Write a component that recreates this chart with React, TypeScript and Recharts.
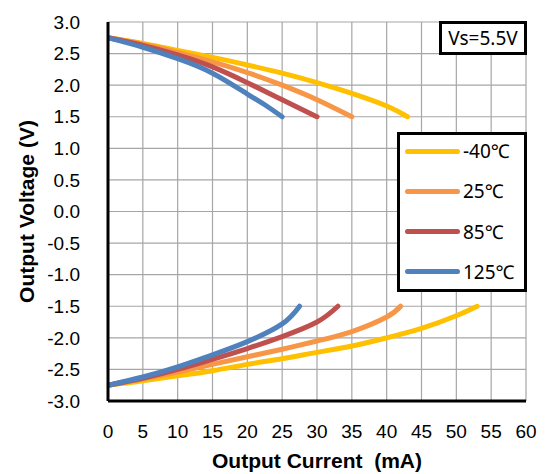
import React from 'react'
import { LineChart, Line, XAxis, YAxis, CartesianGrid } from 'recharts'

// Output current (mA) vs output voltage (V), source (top) and sink (bottom) branches
const tempLabels = ['-40℃', '25℃', '85℃', '125℃']
const tempColors = ['#FFC000', '#F79646', '#C0504D', '#4F81BD']

const xTicks = [0, 5, 10, 15, 20, 25, 30, 35, 40, 45, 50, 55, 60]
const yTicks = [-3, -2.5, -2, -1.5, -1, -0.5, 0, 0.5, 1, 1.5, 2, 2.5, 3]

const highM40 = [[0, 2.75], [5, 2.66], [10, 2.55], [15, 2.44], [20, 2.32], [25, 2.19], [30, 2.04], [35, 1.87], [40, 1.67], [43, 1.5]]
const high25 = [[0, 2.75], [5, 2.65], [10, 2.52], [15, 2.37], [20, 2.2], [25, 2.0], [30, 1.77], [35, 1.5]]
const high85 = [[0, 2.75], [5, 2.63], [10, 2.48], [15, 2.29], [20, 2.04], [25, 1.77], [30, 1.5]]
const high125 = [[0, 2.75], [5, 2.6], [10, 2.42], [15, 2.19], [20, 1.86], [22.5, 1.69], [25, 1.5]]

const lowM40 = [[0, -2.75], [5, -2.68], [10, -2.6], [15, -2.52], [20, -2.42], [25, -2.33], [30, -2.23], [35, -2.13], [40, -2.0], [45, -1.85], [50, -1.65], [53, -1.5]]
const low25 = [[0, -2.75], [5, -2.65], [10, -2.54], [15, -2.42], [20, -2.3], [25, -2.18], [30, -2.05], [35, -1.9], [40, -1.67], [42, -1.5]]
const low85 = [[0, -2.75], [5, -2.64], [10, -2.5], [15, -2.34], [20, -2.17], [25, -1.98], [30, -1.75], [33, -1.5]]
const low125 = [[0, -2.75], [5, -2.62], [10, -2.46], [15, -2.27], [20, -2.06], [25, -1.78], [27.5, -1.5]]

const highSets = [highM40, high25, high85, high125]
const lowSets = [lowM40, low25, low85, low125]

const toPoints = (pairs: number[][]) => pairs.map(([i, v]) => ({ i, v }))

const arial = 'Liberation Sans, Arial, sans-serif'
const boxFont = '"Noto Sans", "Noto Sans CJK SC", sans-serif'
const tickStyle = { fill: '#000', fontSize: 19, fontFamily: arial }
const titleStyle = { fontFamily: arial, fontWeight: 'bold', fontSize: 21, fill: '#000' }
const frame = { stroke: '#000', strokeWidth: 3 }

function TempLegend() {
  return (
    <div
      style={{
        position: 'absolute',
        left: 397,
        top: 132,
        width: 124,
        height: 154,
        border: '3px solid #000',
        background: '#fff',
        fontFamily: boxFont,
        fontSize: 19,
        color: '#000',
      }}
    >
      {tempLabels.map((label, idx) => (
        <div
          key={label}
          style={{ position: 'absolute', left: 5, top: 4 + idx * 40.3, height: 24, display: 'flex', alignItems: 'center' }}
        >
          <div style={{ width: 55, height: 5, borderRadius: 3, background: tempColors[idx], marginRight: 3 }} />
          <span>{label}</span>
        </div>
      ))}
    </div>
  )
}

export default function App() {
  return (
    <div style={{ position: 'absolute', left: 0, top: 0, width: 550, height: 474, background: '#fff' }}>
      <LineChart width={550} height={474} margin={{ top: 22, right: 24, bottom: 33, left: 0 }}>
        <CartesianGrid stroke="#a6a6a6" strokeWidth={1.2} horizontalValues={yTicks} verticalValues={xTicks} />
        <XAxis
          type="number"
          dataKey="i"
          domain={[0, 60]}
          ticks={xTicks}
          interval={0}
          allowDataOverflow
          height={40}
          tickSize={0}
          tickMargin={24}
          axisLine={frame}
          tick={tickStyle}
          label={{ value: 'Output Current\u00A0 (mA)', position: 'bottom', offset: 12, style: titleStyle }}
        />
        <XAxis xAxisId="top" orientation="top" type="number" domain={[0, 60]} height={0} tick={false} tickLine={false} axisLine={frame} />
        <YAxis
          type="number"
          dataKey="v"
          domain={[-3, 3]}
          ticks={yTicks}
          interval={0}
          allowDataOverflow
          width={108}
          tickSize={0}
          tickMargin={28}
          axisLine={frame}
          tick={tickStyle}
          tickFormatter={(t: number) => t.toFixed(1)}
          label={{
            value: 'Output Voltage (V)',
            angle: -90,
            position: 'insideLeft',
            offset: 27,
            style: { ...titleStyle, textAnchor: 'middle' },
          }}
        />
        <YAxis yAxisId="right" orientation="right" type="number" domain={[-3, 3]} width={0} tick={false} tickLine={false} axisLine={frame} />
        {highSets.map((set, idx) => (
          <Line
            key={`high-${idx}`}
            data={toPoints(set)}
            dataKey="v"
            type="natural"
            stroke={tempColors[idx]}
            strokeWidth={5}
            strokeLinecap="round"
            dot={false}
            isAnimationActive={false}
          />
        ))}
        {lowSets.map((set, idx) => (
          <Line
            key={`low-${idx}`}
            data={toPoints(set)}
            dataKey="v"
            type="natural"
            stroke={tempColors[idx]}
            strokeWidth={5}
            strokeLinecap="round"
            dot={false}
            isAnimationActive={false}
          />
        ))}
      </LineChart>
      <TempLegend />
      <div
        style={{
          position: 'absolute',
          left: 439,
          top: 21,
          width: 82,
          height: 28,
          border: '3px solid #000',
          background: '#fff',
          fontFamily: boxFont,
          fontSize: 19,
          lineHeight: '28px',
          textAlign: 'center',
          color: '#000',
        }}
      >
        Vs=5.5V
      </div>
    </div>
  )
}
